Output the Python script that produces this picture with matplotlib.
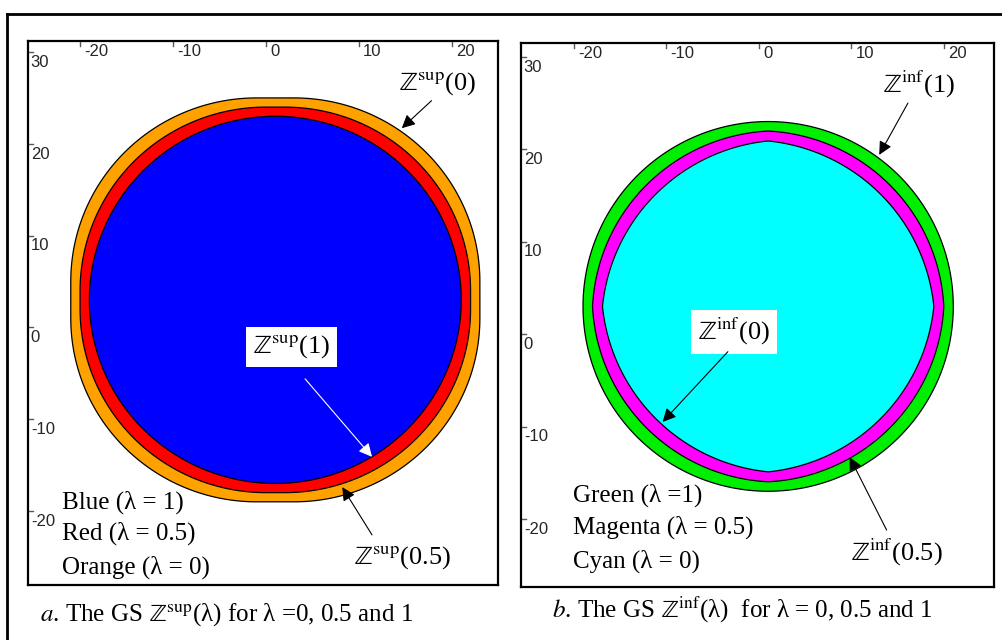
import numpy as np
import matplotlib
matplotlib.use('Agg')
import matplotlib.pyplot as plt
from matplotlib.lines import Line2D
from matplotlib.transforms import blended_transform_factory

plt.rcParams['mathtext.fontset'] = 'stix'

# level sets for lambda = 1, 0.5, 0
lambdas = [1, 0.5, 0]
center = (1, 3)
radius = 20
sup_offsets = [0, 1, 2]   # half side of square added (sup)
inf_offsets = [0, 1, 2]   # half side of square eroded (inf)
sup_colors = ['#0000ff', '#ff0000', '#ffa200']
inf_colors = ['#00ee00', '#ff00ff', '#00ffff']
sup_legend = ['Blue (λ = 1)', 'Red (λ = 0.5)', 'Orange (λ = 0)']
inf_legend = ['Green (λ =1)', 'Magenta (λ = 0.5)', 'Cyan (λ = 0)']
xticks = [-20, -10, 0, 10, 20]
yticks = [-20, -10, 0, 10, 20, 30]

SERIF = ['Liberation Serif', 'DejaVu Serif']
SANS = ['Liberation Sans', 'DejaVu Sans']
ZSUP = r'$\mathrm{ℤ}^{\mathrm{sup}}$'
ZINF = r'$\mathrm{ℤ}^{\mathrm{inf}}$'


def sup_shape(c, R, a, n=721):
    # disk (+) square : rounded square
    t = np.linspace(0, 2 * np.pi, n)
    x = c[0] + R * np.cos(t) + a * np.sign(np.cos(t))
    y = c[1] + R * np.sin(t) + a * np.sign(np.sin(t))
    return x, y


def inf_shape(c, R, a, n=1441):
    # disk (-) square : intersection of shifted disks
    t = np.linspace(0, 2 * np.pi, n)
    ux, uy = np.cos(t), np.sin(t)
    r = np.full(n, np.inf)
    for dx, dy in [(a, a), (a, -a), (-a, a), (-a, -a)]:
        ud = ux * dx + uy * dy
        r = np.minimum(r, ud + np.sqrt(ud ** 2 - (dx ** 2 + dy ** 2) + R ** 2))
    return c[0] + r * ux, c[1] + r * uy


def setup_axes(ax, xlim, ylim):
    ax.set_xlim(*xlim)
    ax.set_ylim(*ylim)
    ax.set_xticks([])
    ax.set_yticks([])
    for s in ax.spines.values():
        s.set_linewidth(1.6)
    bx = blended_transform_factory(ax.transData, ax.transAxes)
    by = blended_transform_factory(ax.transAxes, ax.transData)
    for t in xticks:
        ax.plot([t, t], [1, 0.99], transform=bx, color='0.35', lw=1, clip_on=False)
        ax.annotate(str(t), xy=(t, 1), xycoords=bx, xytext=(3, -2.5),
                    textcoords='offset points', ha='left', va='top',
                    fontsize=12, family=SANS, color='0.15')
    for t in yticks:
        ax.plot([0, 0.011], [t, t], transform=by, color='0.35', lw=1, clip_on=False)
        ax.annotate(str(t), xy=(0, t), xycoords=by, xytext=(2, -2),
                    textcoords='offset points', ha='left', va='top',
                    fontsize=12, family=SANS, color='0.15')


def arrow(ax, tail, head, color='black'):
    ax.annotate('', xy=head, xytext=tail,
                arrowprops=dict(arrowstyle='-|>', color=color, lw=0.8,
                                mutation_scale=20, shrinkA=0, shrinkB=0))


fig = plt.figure(figsize=(10.02, 6.4), dpi=100)

# outer frame
fig.add_artist(Line2D([7 / 1002, 7 / 1002], [0, 1 - 14 / 640], color='black', lw=2))
fig.add_artist(Line2D([7 / 1002, 1], [1 - 14 / 640, 1 - 14 / 640], color='black', lw=2))

# ---- panel a : sup ----
ax1 = fig.add_axes([28 / 1002, 55 / 640, 470 / 1002, 544 / 640])
setup_axes(ax1, (-25.6, 24.95), (-28.06, 31.2))
for a, col in zip(sup_offsets[::-1], sup_colors[::-1]):
    x, y = sup_shape(center, radius, a)
    ax1.fill(x, y, facecolor=col, edgecolor='black', lw=0.9)

ax1.text(18.4, 26.6, ZSUP + '(0)', fontsize=19, family=SERIF, ha='center', va='center')
arrow(ax1, (17.8, 24.7), (14.6, 21.7))
ax1.text(2.7, -2.1, ZSUP + '(1)', fontsize=19, family=SERIF, ha='center', va='center',
         bbox=dict(boxstyle='square,pad=0.25', fc='white', ec='none'))
arrow(ax1, (4.2, -5.6), (11.4, -14.1), color='white')
ax1.text(14.6, -25.1, ZSUP + '(0.5)', fontsize=19, family=SERIF, ha='center', va='center')
arrow(ax1, (11.4, -22.6), (8.2, -17.4))
for lab, yy in zip(sup_legend, [-19.0, -22.4, -26.1]):
    ax1.text(-21.9, yy, lab, fontsize=18, family=SERIF, ha='left', va='center')

# ---- panel b : inf ----
ax2 = fig.add_axes([521 / 1002, 53 / 640, 473 / 1002, 544 / 640])
setup_axes(ax2, (-25.7, 25.4), (-27.36, 31.5))
for a, col in zip(inf_offsets, inf_colors):
    x, y = inf_shape(center, radius, a)
    ax2.fill(x, y, facecolor=col, edgecolor='black', lw=0.9)

ax2.text(17.2, 27.0, ZINF + '(1)', fontsize=19, family=SERIF, ha='center', va='center')
arrow(ax2, (16.1, 25.0), (13.0, 19.4))
ax2.text(-2.7, 0.24, ZINF + '(0)', fontsize=19, family=SERIF, ha='center', va='center',
         bbox=dict(boxstyle='square,pad=0.25', fc='white', ec='none'))
arrow(ax2, (-3.35, -1.9), (-10.4, -9.5))
ax2.text(14.8, -23.6, ZINF + '(0.5)', fontsize=19, family=SERIF, ha='center', va='center')
arrow(ax2, (13.8, -21.2), (9.8, -13.3))
for lab, yy in zip(inf_legend, [-17.4, -20.9, -24.6]):
    ax2.text(-20.1, yy, lab, fontsize=18, family=SERIF, ha='left', va='center')

# captions
fig.text(40 / 1002, 1 - 615 / 640,
         r'$a$. The GS ' + ZSUP + '(λ) for λ =0, 0.5 and 1',
         fontsize=18, family=SERIF, ha='left', va='center')
fig.text(552 / 1002, 1 - 610 / 640,
         r'$b$. The GS ' + ZINF + '(λ)  for λ = 0, 0.5 and 1',
         fontsize=18, family=SERIF, ha='left', va='center')

fig.savefig('out.png', dpi=100)
